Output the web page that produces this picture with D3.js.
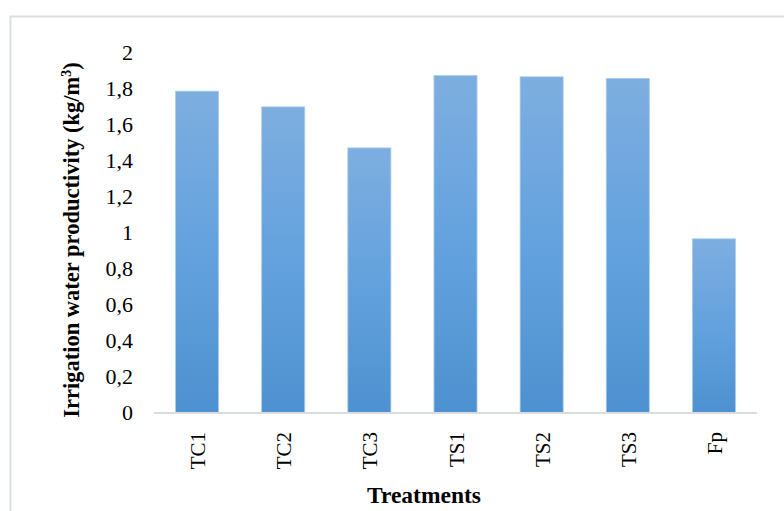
<!DOCTYPE html>
<html>
<head>
<meta charset="utf-8">
<script src="https://cdn.jsdelivr.net/npm/d3@7"></script>
<style>
  body { margin: 0; background: #fff; }
  text { font-family: "Liberation Serif", "Times New Roman", serif; fill: #000; }
</style>
</head>
<body>
<svg width="784" height="511"></svg>
<script>
const treatments = ["TC1", "TC2", "TC3", "TS1", "TS2", "TS3", "Fp"];
const productivity = [1.785, 1.698, 1.47, 1.872, 1.865, 1.856, 0.965];
const yTicks = [0, 0.2, 0.4, 0.6, 0.8, 1, 1.2, 1.4, 1.6, 1.8, 2];

const svg = d3.select("svg");

// outer chart frame (runs off right and bottom)
svg.append("rect")
    .attr("x", 10.5).attr("y", 16.5)
    .attr("width", 790).attr("height", 520)
    .attr("fill", "#fff")
    .attr("stroke", "#dadde2")
    .attr("stroke-width", 2);

const x = d3.scaleBand()
    .domain(treatments)
    .range([154, 757])
    .paddingInner(0.5)
    .paddingOuter(0.25);

const y = d3.scaleLinear()
    .domain([0, 2])
    .range([412.5, 52.5]);

const defs = svg.append("defs");
const grad = defs.append("linearGradient")
    .attr("id", "barGrad")
    .attr("x1", 0).attr("y1", 0).attr("x2", 0).attr("y2", 1);
grad.append("stop").attr("offset", "0%").attr("stop-color", "#7eaee0");
grad.append("stop").attr("offset", "50%").attr("stop-color", "#63a2de");
grad.append("stop").attr("offset", "100%").attr("stop-color", "#4e91d0");

// bars
svg.selectAll(".bar")
    .data(treatments)
    .enter().append("rect")
    .attr("class", "bar")
    .attr("x", d => x(d))
    .attr("y", (d, i) => y(productivity[i]))
    .attr("width", x.bandwidth())
    .attr("height", (d, i) => y(0) - y(productivity[i]))
    .attr("fill", "url(#barGrad)")
    .attr("stroke", "#a9cbee")
    .attr("stroke-width", 0.8);

// baseline
svg.append("line")
    .attr("x1", 154).attr("x2", 757)
    .attr("y1", y(0) + 0.5).attr("y2", y(0) + 0.5)
    .attr("stroke", "#d9dce1")
    .attr("stroke-width", 2);

// y tick labels
const fmt = v => String(v).replace(".", ",");
svg.selectAll(".ytick")
    .data(yTicks)
    .enter().append("text")
    .attr("class", "ytick")
    .attr("x", 133)
    .attr("y", d => y(d))
    .attr("dy", "0.34em")
    .attr("text-anchor", "end")
    .style("font-size", "22px")
    .text(fmt);

// x tick labels (rotated)
svg.selectAll(".xtick")
    .data(treatments)
    .enter().append("text")
    .attr("class", "xtick")
    .attr("transform", d => `translate(${x(d) + x.bandwidth() / 2 + 8},432) rotate(-90)`)
    .attr("text-anchor", "end")
    .style("font-size", "21px")
    .text(d => d);

// y axis title
const yt = svg.append("text")
    .attr("transform", "translate(79,240) rotate(-90)")
    .attr("text-anchor", "middle")
    .style("font-size", "22.5px")
    .style("font-weight", "bold");
yt.append("tspan").text("Irrigation water productivity (kg/m");
yt.append("tspan").attr("dy", -8).style("font-size", "14px").text("3");
yt.append("tspan").attr("dy", 8).text(")");

// x axis title
svg.append("text")
    .attr("x", 424)
    .attr("y", 503)
    .attr("text-anchor", "middle")
    .style("font-size", "23.5px")
    .style("font-weight", "bold")
    .text("Treatments");
</script>
</body>
</html>
